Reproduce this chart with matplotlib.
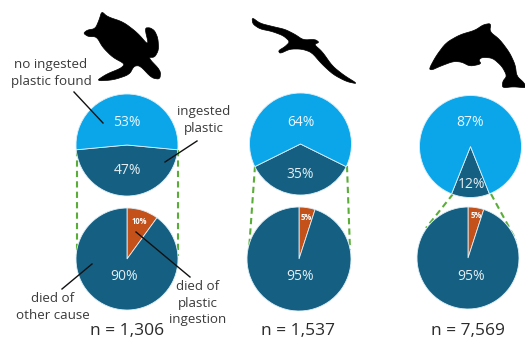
import matplotlib
matplotlib.use("Agg")
import matplotlib.pyplot as plt
from matplotlib.patches import Polygon

W, H = 525, 339

# Share of animals with and without ingested plastic
no_plastic = [53, 64, 87]
ingested = [47, 35, 12]
# Cause of death among animals with ingested plastic
other_cause = [90, 95, 95]
plastic_death = [10, 5, 5]
sample_sizes = ["1,306", "1,537", "7,569"]

LIGHT = "#0BA6EA"
DARK = "#156082"
ORANGE = "#C4511A"
GREEN = "#5AAE38"
INK = "#3A3A3A"

plt.rcParams["font.family"] = ["Open Sans", "DejaVu Sans"]

fig = plt.figure(figsize=(W / 100, H / 100), dpi=100, facecolor="white")
ax = fig.add_axes([0, 0, 1, 1])


def flip(y):
    return H - y


def pie_at(values, colors, cx, cy, r, start):
    ax.pie(values, colors=colors, center=(cx, flip(cy)), radius=r, startangle=start,
           counterclock=False, normalize=True,
           wedgeprops=dict(edgecolor="#DDEFF8", linewidth=0.6))


# Dashed connectors run behind the pies
connectors = [
    ((76.5, 150), (76.5, 256)), ((177.5, 150), (177.5, 256)),
    ((255, 166), (249, 250)), ((347, 166), (350, 250)),
    ((453, 194), (426, 228)), ((491, 194), (516, 240)),
]
for (x0, y0), (x1, y1) in connectors:
    ax.plot([x0, x1], [flip(y0), flip(y1)], color=GREEN, lw=1.5,
            ls=(0, (3.0, 2.0)), zorder=0.5)

top_centres = [(127, 145, 51), (300.5, 144, 51), (470.5, 146.5, 51)]
bottom_centres = [(127, 259, 51), (299, 259, 52), (468, 258, 51)]

for i in range(3):
    cx, cy, r = top_centres[i]
    share = ingested[i] / (ingested[i] + no_plastic[i])
    # Ingested slice is centred on six o'clock
    pie_at([ingested[i], no_plastic[i]], [DARK, LIGHT], cx, cy, r, 270 + 180 * share)
    cx, cy, r = bottom_centres[i]
    pie_at([plastic_death[i], other_cause[i]], [ORANGE, DARK], cx, cy, r, 90)

ax.set_xlim(0, W)
ax.set_ylim(0, H)
ax.set_aspect("auto")
ax.axis("off")


def label(x, y, s, size=9.6, color=INK, **kw):
    ax.text(x, flip(y), s, fontsize=size, color=color, ha="center", va="center",
            zorder=6, **kw)


# Percentage labels
no_xy = [(127, 123), (301, 123), (470, 123)]
ing_xy = [(127, 170), (300, 175), (472, 184)]
oth_xy = [(124, 277), (300, 277), (471, 276)]
pla_xy = [(139, 222), (306, 218), (476, 216)]
for i in range(3):
    label(*no_xy[i], f"{no_plastic[i]}%", 10, "#EAF6FC")
    label(*ing_xy[i], f"{ingested[i]}%", 10, "#E4EEF2")
    label(*oth_xy[i], f"{other_cause[i]}%", 10, "#E4EEF2")
    label(*pla_xy[i], f"{plastic_death[i]}%", 5.5, "white", fontweight="bold")

# Category annotations
label(51, 73, "no ingested\nplastic found", linespacing=1.35)
label(204, 120, "ingested\nplastic", linespacing=1.35)
label(53, 307, "died of\nother cause", linespacing=1.35)
label(198, 303, "died of\nplastic\ningestion", linespacing=1.35)

for x0, y0, x1, y1 in [(74, 92, 103, 123), (197, 141, 165, 162),
                       (92, 264, 62, 289), (136, 232, 190, 277)]:
    ax.plot([x0, x1], [flip(y0), flip(y1)], color="#111111", lw=1.0, zorder=5)

for x, n in zip([127, 298, 468], sample_sizes):
    label(x, 331, f"n = {n}", 12.5, "#2A2A2A")

# Animal silhouettes, outlined in pixel space
turtle = [(305, 34), (322, 50), (370, 66), (412, 98), (447, 138), (434, 84), (450, 83),
          (464, 92), (474, 115), (476, 150), (464, 172), (444, 172), (482, 212), (480, 238),
          (455, 234), (420, 197), (402, 198), (388, 224), (340, 240), (288, 243), (320, 222),
          (362, 205), (375, 192), (338, 172), (308, 142), (290, 110), (265, 110), (250, 100),
          (262, 90), (286, 86), (298, 58)]
bird = [(36, 52), (60, 70), (100, 80), (135, 88), (165, 103), (190, 120), (225, 118), (238, 127),
        (222, 133), (247, 155), (277, 198), (312, 226), (354, 252), (320, 245), (280, 224),
        (245, 192), (215, 157), (185, 147), (150, 147), (120, 161), (115, 152), (135, 140),
        (150, 125), (130, 107), (95, 94), (60, 87), (38, 72)]
dolphin = [(567, 207), (588, 168), (618, 128), (660, 104), (705, 91), (730, 74), (753, 70),
           (749, 95), (779, 118), (809, 158), (826, 195), (830, 228), (852, 248), (860, 264),
           (820, 260), (787, 264), (788, 244), (801, 228), (786, 199), (758, 174), (726, 172),
           (716, 180), (724, 192), (690, 199), (665, 186), (640, 184), (600, 199), (576, 210)]


def rounded(points, passes=2):
    # Corner cutting softens the polygon outline
    for _ in range(passes):
        out = []
        for a, b in zip(points, points[1:] + points[:1]):
            out.append((0.8 * a[0] + 0.2 * b[0], 0.8 * a[1] + 0.2 * b[1]))
            out.append((0.2 * a[0] + 0.8 * b[0], 0.2 * a[1] + 0.8 * b[1]))
        points = out
    return points


for outline, dx in [(turtle, 0), (bird, 240), (dolphin, 240)]:
    pts = [(dx + x / 3, flip(y / 3)) for x, y in rounded(outline)]
    ax.add_patch(Polygon(pts, closed=True, facecolor="black", edgecolor="black",
                         linewidth=0.5, joinstyle="round", zorder=4))

fig.savefig("out.png", dpi=100, facecolor="white")
